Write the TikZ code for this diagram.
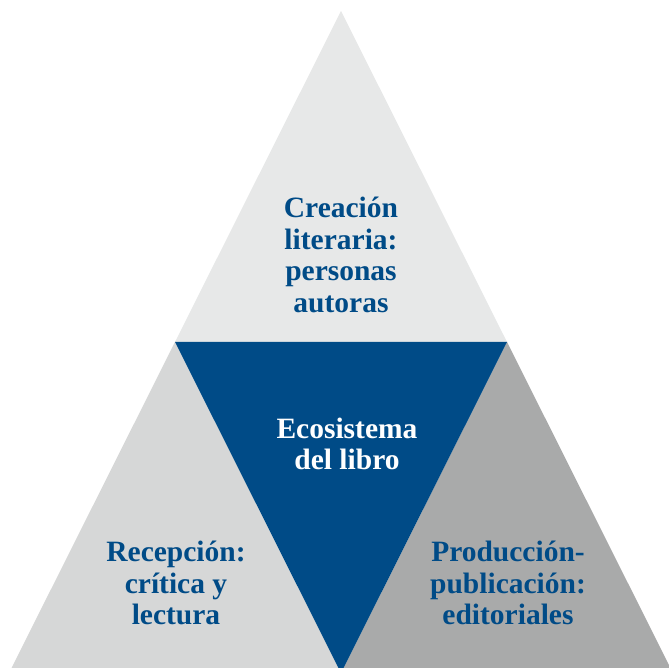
\documentclass[tikz,border=0pt]{standalone}
\usepackage{fontspec}
\setmainfont{Liberation Serif}
\definecolor{azul}{HTML}{004B87}
\definecolor{grisA}{HTML}{E7E8E8}
\definecolor{grisB}{HTML}{D6D7D7}
\definecolor{grisC}{HTML}{A9AAAA}
\begin{document}
\begin{tikzpicture}[x=1pt,y=1pt,line join=round,
  rotulo/.style={align=center,font=\fontsize{29.5}{31.5}\selectfont\bfseries,text=azul}]
\useasboundingbox (0,0) rectangle (669,668);
\clip (0,0) rectangle (669,668);
% vertices of the big triangle and midpoints of its sides
\coordinate (A) at (341,657);
\coordinate (B) at (9,-5);
\coordinate (C) at (673,-5);
\coordinate (AB) at (175,326);
\coordinate (AC) at (507,326);
\coordinate (BC) at (341,-5);
\fill[grisA] (A)--(AB)--(AC)--cycle;
\fill[grisB] (AB)--(B)--(BC)--cycle;
\fill[grisC] (AC)--(BC)--(C)--cycle;
\fill[azul] (AB)--(AC)--(BC)--cycle;
% labels
\node[rotulo] (creacion) at (341,413) {Creación\\literaria:\\personas\\autoras};
\node[rotulo,text=white] (eco) at (347,224) {Ecosistema\\del libro};
\node[rotulo] (recep) at (176,85) {Recepción:\\crítica y\\lectura};
\node[rotulo] (prod) at (508,85) {Producción-\\publicación:\\editoriales};
\end{tikzpicture}
\end{document}
